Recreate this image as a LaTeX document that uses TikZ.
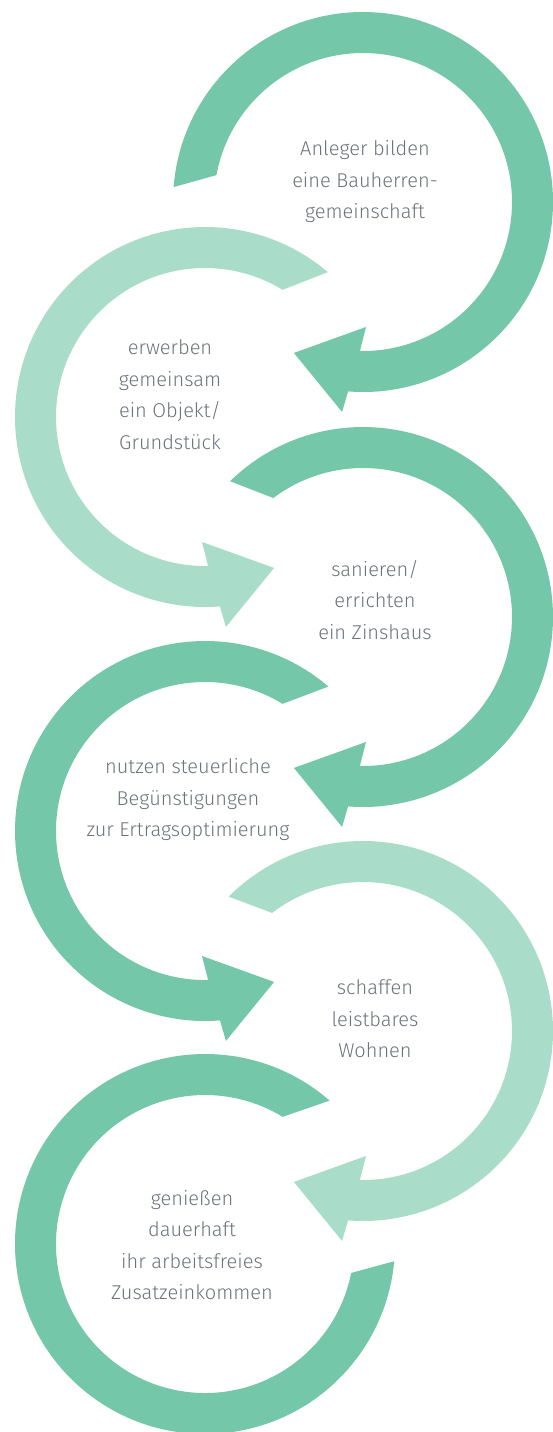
\documentclass[tikz,border=0pt]{standalone}
\usepackage{fontspec}
\setmainfont{Fira Sans}[UprightFont={* Light}]
\usepackage{tikz}

\definecolor{ringdark}{HTML}{74C7A8}
\definecolor{ringlight}{HTML}{A9DDCA}
\definecolor{labelgrey}{HTML}{6E737B}

\tikzset{
  darkring/.style={fill=ringdark, draw=none},
  lightring/.style={fill=ringlight, draw=none},
  steptext/.style={align=center, text=labelgrey, inner sep=0pt,
    font=\fontsize{20}{31.5}\selectfont}
}

% ring turning clockwise, arrow head at the bottom
% #1,#2 centre, #3 outer start angle, #4 inner start angle, #5 style
\newcommand{\cwring}[5]{%
  \fill[#5, shift={(#1,#2)}] (#3:190) arc[start angle=#3, end angle=-94.5, radius=190]
    -- (-95.7:211) -- (-114.6:166) -- (-88.6:125) -- (-91.2:149)
    arc[start angle=-91.2, end angle=#4, radius=149] -- cycle;
}
% ring turning counter clockwise, arrow head at the bottom
\newcommand{\ccwring}[5]{%
  \fill[#5, shift={(#1,#2)}] (#3:190) arc[start angle=#3, end angle=274.5, radius=190]
    -- (275.7:211) -- (294.6:166) -- (268.6:125) -- (271.2:149)
    arc[start angle=271.2, end angle=#4, radius=149] -- cycle;
}

\begin{document}
\begin{tikzpicture}[x=1pt, y=1pt]
\useasboundingbox (0,0) rectangle (553,-1432);

\cwring{363}{-202}{175.5}{169.6}{darkring}
\ccwring{205}{-417}{49.7}{58.6}{lightring}
\cwring{363}{-617}{134.4}{127}{darkring}
\ccwring{205}{-831}{49.5}{58.6}{darkring}
\cwring{363}{-1031}{135}{127.6}{lightring}
% last ring has no head
\fill[darkring, shift={(205,-1244)}] (49:190) arc[start angle=49, end angle=354.8, radius=190]
  -- (348.8:149) arc[start angle=348.8, end angle=58.6, radius=149] -- cycle;

\node[steptext] (bauherren) at (365,-182) {Anleger bilden\\eine Bauherren-\\gemeinschaft};
\node[steptext] (objekt) at (170,-394.5) {erwerben\\gemeinsam\\ein Objekt/\\Grundstück};
\node[steptext] (zinshaus) at (375,-600) {sanieren/\\errichten\\ein Zinshaus};
\node[steptext] (ertrag) at (188,-800) {nutzen steuerliche\\Begünstigungen\\zur Ertragsoptimierung};
\node[steptext] (wohnen) at (375,-1019) {schaffen\\leistbares\\Wohnen};
\node[steptext] (einkommen) at (192,-1245) {genießen\\dauerhaft\\ihr arbeitsfreies\\Zusatzeinkommen};

\end{tikzpicture}
\end{document}
